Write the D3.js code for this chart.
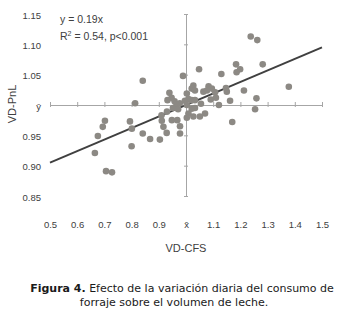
<!DOCTYPE html>
<html>
<head>
<meta charset="utf-8">
<script src="https://cdn.jsdelivr.net/npm/d3@7"></script>
<style>
  body { margin: 0; background: #fff; }
  svg { display: block; }
</style>
</head>
<body>
<script>
// values: x = VD-CFS, y = VD-PnL
const vdCFS = [0.665, 0.676, 0.694, 0.702, 0.706, 0.728, 0.794, 0.801, 0.800, 0.813,
  0.841, 0.841, 0.868, 0.904, 0.910, 0.911, 0.917, 0.929, 0.930, 0.939,
  0.947, 0.932, 0.958, 0.965, 0.977, 0.952, 0.971, 0.948, 0.968, 0.978,
  0.978, 0.989, 1.003, 1.009, 0.996, 1.021, 1.003, 1.021, 1.009, 1.003,
  1.027, 1.021, 1.033, 1.033, 1.033, 1.027, 1.048, 1.055, 1.051, 1.064,
  1.083, 1.095, 1.077, 1.091, 1.107, 1.110, 1.121, 1.130, 1.147, 1.150,
  1.162, 1.170, 1.184, 1.199, 1.186, 1.213, 1.238, 1.262, 1.259, 1.254,
  1.282, 1.378, 1.070];
const vdPnL = [0.921, 0.949, 0.964, 0.974, 0.891, 0.889, 0.973, 0.961, 0.932, 1.003,
  1.040, 0.953, 0.944, 0.943, 0.983, 0.974, 0.964, 0.954, 0.989, 1.020,
  1.012, 1.008, 1.006, 1.000, 1.003, 0.995, 0.993, 0.975, 0.975, 0.965,
  0.953, 1.048, 1.019, 1.010, 1.007, 1.008, 1.000, 0.994, 0.986, 0.979,
  1.032, 1.027, 1.024, 1.008, 0.995, 0.981, 1.059, 1.002, 0.981, 1.022,
  1.031, 1.027, 1.024, 1.009, 1.021, 1.012, 1.000, 1.051, 1.028, 1.022,
  1.007, 0.972, 1.067, 1.059, 1.054, 1.024, 1.113, 1.107, 1.011, 0.993,
  1.067, 1.030, 0.986];

const fitX = [0.5, 1.5];
const fitY = [0.905, 1.095];

const xTicks = [0.5, 0.6, 0.7, 0.8, 0.9, 1.0, 1.1, 1.2, 1.3, 1.4, 1.5];
const xTickLabels = ['0.5', '0.6', '0.7', '0.8', '0.9', 'x\u0304', '1.1', '1.2', '1.3', '1.4', '1.5'];
const yTicks = [0.85, 0.90, 0.95, 1.00, 1.05, 1.10, 1.15];
const yTickLabels = ['0.85', '0.90', '0.95', '\u0233', '1.05', '1.10', '1.15'];

const W = 340, H = 310;
const sans = '"Liberation Sans", Arial, sans-serif';

const svg = d3.select('body').append('svg').attr('width', W).attr('height', H);

const x = d3.scaleLinear().domain([0.5, 1.5]).range([50, 322]);
const y = d3.scaleLinear().domain([0.85, 1.15]).range([196, 14]);

// axes crossing at the means
const xAxis = svg.append('g')
  .attr('transform', `translate(0,${y(1)})`)
  .call(d3.axisBottom(x).tickValues(xTicks).tickFormat('').tickSizeOuter(0));
xAxis.selectAll('.tick line').attr('y1', -3).attr('y2', 2);

const yAxis = svg.append('g')
  .attr('transform', `translate(${x(1)},0)`)
  .call(d3.axisLeft(y).tickValues(yTicks).tickFormat('').tickSizeOuter(0));
yAxis.selectAll('.tick line').attr('x1', -2).attr('x2', 2);

[xAxis, yAxis].forEach(g => {
  g.selectAll('path, line').attr('stroke', '#a6a6a6').attr('stroke-width', 1);
});

// tick labels at the edges of the plot
const xLab = svg.append('g')
  .attr('transform', 'translate(0,218)')
  .call(d3.axisBottom(x).tickValues(xTicks).tickSize(0)
    .tickFormat((d, i) => xTickLabels[i]));
const yLab = svg.append('g')
  .attr('transform', 'translate(44,1)')
  .call(d3.axisLeft(y).tickValues(yTicks).tickSize(0)
    .tickFormat((d, i) => yTickLabels[i]));
[xLab, yLab].forEach(g => {
  g.select('.domain').remove();
  g.selectAll('text').attr('font-family', sans).attr('font-size', 9.5).attr('fill', '#404040');
});

// fitted line
svg.append('line')
  .attr('x1', x(fitX[0])).attr('y1', y(fitY[0]))
  .attr('x2', x(fitX[1])).attr('y2', y(fitY[1]))
  .attr('stroke', '#404040').attr('stroke-width', 2);

// points
svg.append('g')
  .selectAll('circle')
  .data(vdCFS.map((v, i) => [v, vdPnL[i]]))
  .join('circle')
  .attr('cx', d => x(d[0]))
  .attr('cy', d => y(d[1]))
  .attr('r', 3.3)
  .attr('fill', '#8c8984');

// equation
const eq = svg.append('text')
  .attr('font-family', sans).attr('font-size', 10.5).attr('fill', '#404040');
eq.append('tspan').attr('x', 60).attr('y', 23).text('y = 0.19x');
const r2 = eq.append('tspan').attr('x', 60).attr('y', 40);
r2.append('tspan').text('R');
r2.append('tspan').attr('dy', -4).attr('font-size', 7).text('2');
r2.append('tspan').attr('dy', 4).text(' = 0.54, p<0.001');

// axis titles
svg.append('text')
  .attr('transform', 'translate(16,104) rotate(-90)')
  .attr('text-anchor', 'middle')
  .attr('font-family', sans).attr('font-size', 11)
  .attr('fill', '#404040')
  .text('VD-PnL');
svg.append('text')
  .attr('x', 186).attr('y', 252)
  .attr('text-anchor', 'middle')
  .attr('font-family', sans).attr('font-size', 11)
  .attr('fill', '#404040')
  .text('VD-CFS');

// caption
const cap = svg.append('text')
  .attr('text-anchor', 'middle')
  .attr('font-family', '"DejaVu Sans", Verdana, sans-serif').attr('font-size', 11)
  .attr('fill', '#1a1a1a');
const l1 = cap.append('tspan').attr('x', 182).attr('y', 292);
l1.append('tspan').attr('font-weight', 'bold').text('Figura 4.');
l1.append('tspan').text(' Efecto de la variación diaria del consumo de');
cap.append('tspan').attr('x', 174).attr('y', 306).text('forraje sobre el volumen de leche.');
</script>
</body>
</html>
